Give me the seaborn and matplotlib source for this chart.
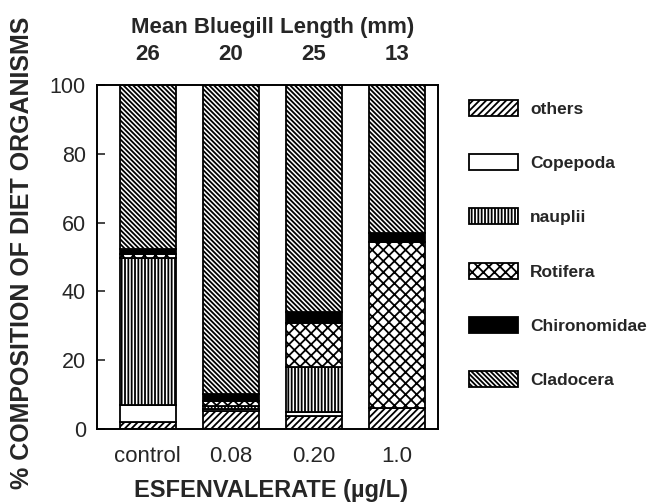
import matplotlib
matplotlib.use("Agg")
import matplotlib.pyplot as plt
import seaborn as sns
import numpy as np
from matplotlib.patches import Patch

# ---- data ----
concentrations = ["control", "0.08", "0.20", "1.0"]
fish_length_mm = ["26", "20", "25", "13"]
others = [1.9, 5.3, 3.8, 6.0]
copepoda = [5.1, 0.6, 1.2, 0.0]
nauplii = [42.6, 0.8, 13.1, 0.0]
rotifera = [1.4, 1.5, 12.8, 48.5]
chironomidae = [1.3, 2.0, 3.0, 2.6]
cladocera = [47.7, 89.8, 66.1, 42.9]

layers = [
    ("others", others, "white", "/////"),
    ("Copepoda", copepoda, "white", ""),
    ("nauplii", nauplii, "white", "|||||"),
    ("Rotifera", rotifera, "white", "xxx"),
    ("Chironomidae", chironomidae, "black", ""),
    ("Cladocera", cladocera, "white", "\\" * 7),
]

sns.set_style("ticks")
plt.rcParams["font.family"] = ["Liberation Sans", "DejaVu Sans"]
plt.rcParams["hatch.linewidth"] = 1.3
plt.rcParams["hatch.color"] = "black"

fig = plt.figure(figsize=(6.55, 5.04), dpi=100)
ax = fig.add_axes([97 / 655, 1 - 429 / 504, (438 - 97) / 655, (429 - 85) / 504])

bottom = np.zeros(len(concentrations))
for name, vals, face, hatch in layers:
    sns.barplot(x=concentrations, y=vals, bottom=bottom, color=face,
                edgecolor="black", linewidth=1.3, hatch=hatch, width=0.67,
                errorbar=None, ax=ax, saturation=1)
    bottom = bottom + np.array(vals)

ax.set_xlim(-0.61, 3.49)
ax.set_ylim(0, 100)
ax.set_yticks([0, 20, 40, 60, 80, 100])
ax.tick_params(axis="y", direction="in", length=6, width=1.2, labelsize=15.5, pad=8,
               left=True, right=False)
ax.tick_params(axis="x", length=0, labelsize=16, pad=12)
for s in ax.spines.values():
    s.set_visible(True)
    s.set_linewidth(1.4)
    s.set_color("black")

ax.set_xlabel("ESFENVALERATE (µg/L)", fontsize=17, fontweight="bold")
ax.xaxis.label.set_va("center")
ax.xaxis.set_label_coords((271 - 97) / 341, -(490 - 429) / 344)
ax.set_ylabel("% COMPOSITION OF DIET ORGANISMS", fontsize=18, fontweight="bold")
ax.yaxis.label.set_va("center")
ax.yaxis.set_label_coords((22 - 97) / 341, (429 - 253) / 344)

# top annotations
xt = ax.get_xaxis_transform()
for i, n in enumerate(fish_length_mm):
    ax.text(i, 1 + 30 / 344, n, transform=xt, ha="center", va="center",
            fontsize=16, fontweight="bold")
ax.text(1.5, 1 + 57 / 344, "Mean Bluegill Length (mm)", transform=xt,
        ha="center", va="center", fontsize=16, fontweight="bold")

handles = [Patch(facecolor=face, edgecolor="black", hatch=hatch, linewidth=1.3, label=name)
           for name, vals, face, hatch in layers]
fs = 12.5
fpx = fs * 100 / 72
fig.legend(handles=handles, loc="upper left", bbox_to_anchor=(469 / 655, 1 - 100 / 504),
           frameon=False, prop={"weight": "bold", "size": fs},
           handlelength=49 / fpx, handleheight=18 / fpx, handletextpad=12 / fpx,
           labelspacing=2.15, borderpad=0, borderaxespad=0)

fig.savefig("out.png", dpi=100)
